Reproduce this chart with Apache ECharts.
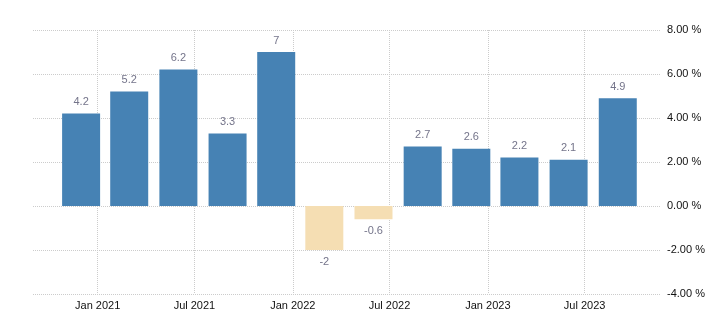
<!DOCTYPE html>
<html>
<head>
<meta charset="utf-8">
<script src="https://cdn.jsdelivr.net/npm/echarts@6/dist/echarts.min.js"></script>
<style>
html,body{margin:0;padding:0;background:#fff;}
#c{width:726px;height:328px;}
</style>
</head>
<body>
<div id="c"></div>
<script>
// Data
var barDates = ['2020-12-01','2021-03-01','2021-06-01','2021-09-01','2021-12-01','2022-03-01','2022-06-01','2022-09-01','2022-12-01','2023-03-01','2023-06-01','2023-09-01'];
var barValues = [4.2, 5.2, 6.2, 3.3, 7, -2, -0.6, 2.7, 2.6, 2.2, 2.1, 4.9];
var tickDates = ['2021-01-01','2021-07-01','2022-01-01','2022-07-01','2023-01-01','2023-07-01'];
var tickLabels = ['Jan 2021','Jul 2021','Jan 2022','Jul 2022','Jan 2023','Jul 2023'];
var xRange = ['2020-09-02','2023-11-19'];
var yTicks = [-4, -2, 0, 2, 4, 6, 8];

function ts(s){ var p = s.split('-'); return new Date(+p[0], +p[1]-1, +p[2]).getTime(); }

var tickTs = tickDates.map(ts);

var seriesData = barDates.map(function(d, i){
  var v = barValues[i];
  return {
    value: [ts(d), v],
    itemStyle: { color: v < 0 ? '#F5DEB3' : '#4682B4' },
    label: { position: v < 0 ? 'bottom' : 'top' }
  };
});

var chart = echarts.init(document.getElementById('c'), null, {renderer:'canvas'});
chart.setOption({
  animation: false,
  backgroundColor: '#fff',
  textStyle: { fontFamily: 'Liberation Sans, Arial, sans-serif' },
  grid: { left: 33, right: 66, top: 30, bottom: 34, containLabel: false },
  xAxis: {
    type: 'value',
    min: ts(xRange[0]),
    max: ts(xRange[1]),
    scale: true,
    axisLine: { show: false },
    axisTick: { show: false, customValues: tickTs },
    splitLine: { show: true, lineStyle: { color: '#cccccc', type: 'dotted', width: 1 } },
    axisLabel: {
      customValues: tickTs,
      color: '#111111',
      fontSize: 11,
      margin: 6,
      formatter: function(val){
        var i = tickTs.indexOf(+val);
        return i >= 0 ? tickLabels[i] : '';
      }
    }
  },
  yAxis: {
    type: 'value',
    position: 'right',
    min: yTicks[0],
    max: yTicks[yTicks.length-1],
    interval: 2,
    axisLine: { show: false },
    axisTick: { show: false },
    splitLine: { show: true, lineStyle: { color: '#cccccc', type: 'dotted', width: 1 } },
    axisLabel: {
      color: '#111111',
      fontSize: 11,
      margin: 7,
      padding: [3, 0, 0, 0],
      formatter: function(v){ return v.toFixed(2) + ' %'; }
    }
  },
  series: [{
    type: 'bar',
    barWidth: 38,
    data: seriesData,
    label: {
      show: true,
      color: '#74748a',
      fontSize: 11,
      distance: 6,
      formatter: function(p){ return String(p.value[1]); }
    }
  }]
});
</script>
</body>
</html>
